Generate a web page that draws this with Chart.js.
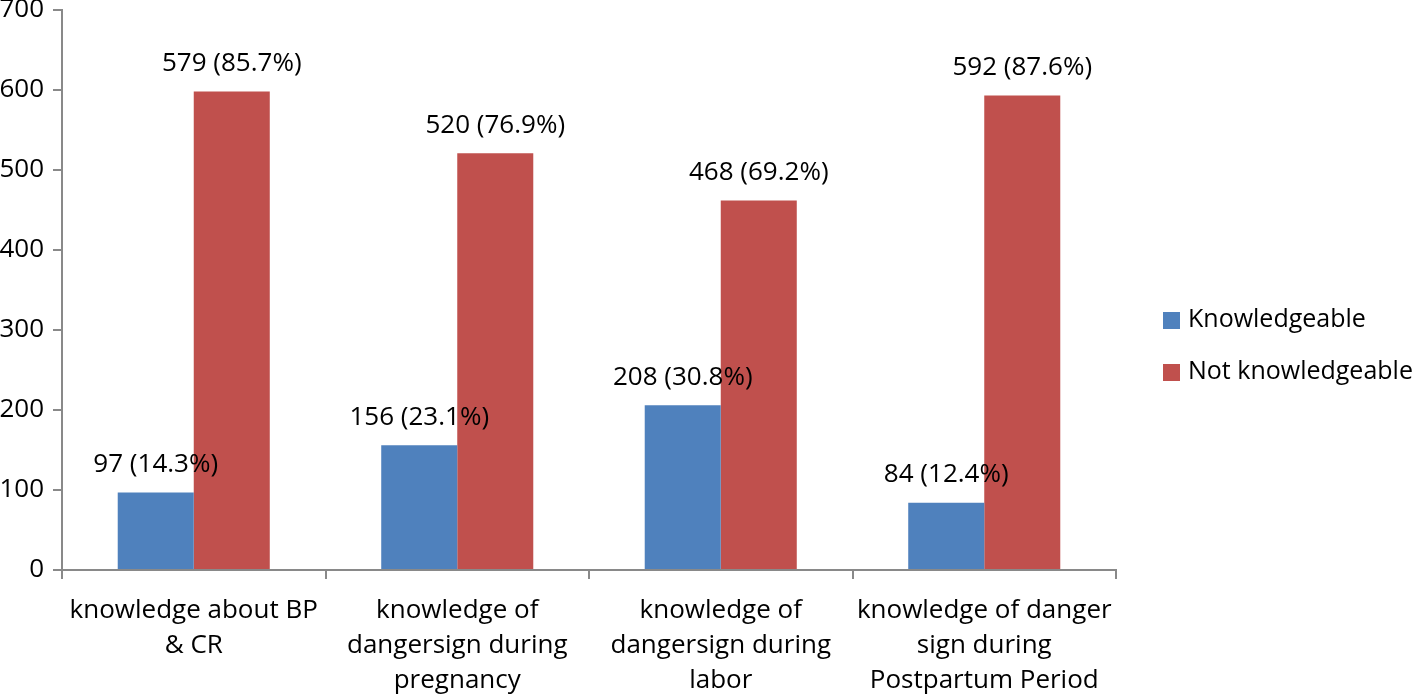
<!DOCTYPE html>
<html>
<head>
<meta charset="utf-8">
<script src="https://cdn.jsdelivr.net/npm/chart.js@4/dist/chart.umd.min.js"></script>
<style>
    html, body { margin: 0; padding: 0; background: #fff; }
    #wrap { width: 1418px; height: 694px; position: relative; }
</style>
</head>
<body>
<div id="wrap"><canvas id="knowledgeChart"></canvas></div>
<script>
// Categories (multi-line axis labels)
const categories = [
    ['knowledge about BP', '& CR'],
    ['knowledge of', 'dangersign during', 'pregnancy'],
    ['knowledge of', 'dangersign during', 'labor'],
    ['knowledge of danger', 'sign during', 'Postpartum Period']
];

// Bar heights as drawn in the picture
const knowledgeable = [97, 156, 206, 84];
const notKnowledgeable = [598, 521, 462, 593];

// Text printed above each bar
const knowledgeableLabels = ['97 (14.3%)', '156 (23.1%)', '208 (30.8%)', '84 (12.4%)'];
const notKnowledgeableLabels = ['579 (85.7%)', '520 (76.9%)', '468 (69.2%)', '592 (87.6%)'];

const yTicks = [0, 100, 200, 300, 400, 500, 600, 700];

const seriesNames = ['Knowledgeable', 'Not knowledgeable'];
const seriesColors = ['#4F81BD', '#C0504D'];

const FONT = '"Open Sans", "Noto Sans", sans-serif';
const FONT_SIZE = 26;
const axisColor = '#898989';

// Value labels above bars
const barLabels = {
    id: 'barLabels',
    afterDatasetsDraw(chart) {
        const ctx = chart.ctx;
        const texts = [knowledgeableLabels, notKnowledgeableLabels];
        ctx.save();
        ctx.font = FONT_SIZE + 'px ' + FONT;
        ctx.fillStyle = '#000';
        ctx.textAlign = 'center';
        ctx.textBaseline = 'middle';
        chart.data.datasets.forEach((ds, i) => {
            chart.getDatasetMeta(i).data.forEach((bar, j) => {
                ctx.fillText(texts[i][j], bar.x, bar.y - 28);
            });
        });
        ctx.restore();
    }
};

// Legend on the right
const sideLegend = {
    id: 'sideLegend',
    afterDraw(chart) {
        const ctx = chart.ctx;
        ctx.save();
        ctx.font = '25px ' + FONT;
        ctx.textBaseline = 'middle';
        ctx.textAlign = 'left';
        seriesNames.forEach((name, i) => {
            const y = 320 + i * 52;
            ctx.fillStyle = seriesColors[i];
            ctx.fillRect(1163, y - 8, 17, 17);
            ctx.fillStyle = '#000';
            ctx.fillText(name, 1188, y);
        });
        ctx.restore();
    }
};

new Chart(document.getElementById('knowledgeChart'), {
    type: 'bar',
    data: {
        labels: categories,
        datasets: [
            {
                label: seriesNames[0],
                data: knowledgeable,
                backgroundColor: seriesColors[0],
                categoryPercentage: 0.577,
                barPercentage: 1
            },
            {
                label: seriesNames[1],
                data: notKnowledgeable,
                backgroundColor: seriesColors[1],
                categoryPercentage: 0.577,
                barPercentage: 1
            }
        ]
    },
    options: {
        responsive: true,
        maintainAspectRatio: false,
        animation: false,
        layout: { padding: { top: 0, right: 302, bottom: 0, left: 0 } },
        plugins: {
            legend: { display: false },
            tooltip: { enabled: false }
        },
        scales: {
            x: {
                grid: {
                    offset: true,
                    drawOnChartArea: false,
                    drawTicks: true,
                    tickLength: 9,
                    color: axisColor,
                    lineWidth: 2
                },
                border: { color: axisColor, width: 2 },
                ticks: {
                    color: '#000',
                    padding: 14,
                    maxRotation: 0,
                    autoSkip: false,
                    font: { family: FONT, size: FONT_SIZE, lineHeight: 1.35 }
                },
                afterFit(scale) {
                    scale.height = 124;
                    scale.paddingLeft = 0;
                    scale.paddingRight = 0;
                }
            },
            y: {
                min: 0,
                max: 700,
                afterBuildTicks(scale) {
                    scale.ticks = yTicks.map(v => ({ value: v }));
                },
                grid: {
                    drawOnChartArea: false,
                    drawTicks: true,
                    tickLength: 9,
                    color: axisColor,
                    lineWidth: 2
                },
                border: { color: axisColor, width: 2 },
                ticks: {
                    color: '#000',
                    padding: 9,
                    font: { family: FONT, size: FONT_SIZE, lineHeight: 0.8 }
                },
                afterFit(scale) {
                    scale.width = 62;
                    scale.paddingTop = 10;
                    scale.paddingBottom = 0;
                }
            }
        }
    },
    plugins: [barLabels, sideLegend]
});
</script>
</body>
</html>
